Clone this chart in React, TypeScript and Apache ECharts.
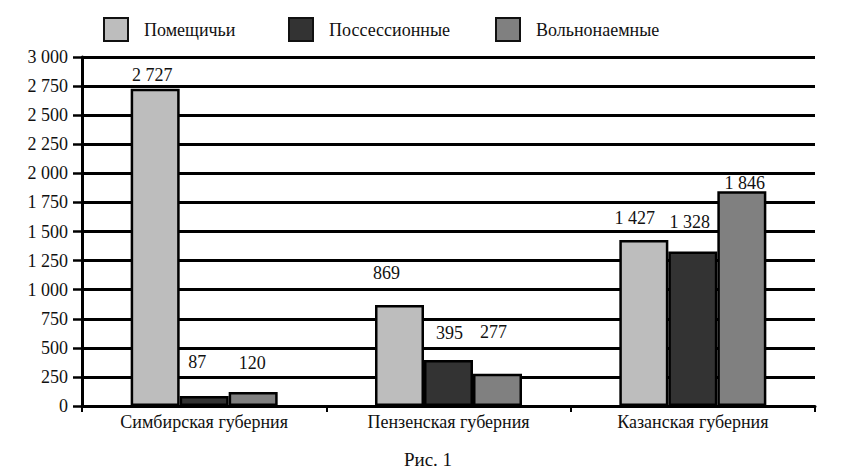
import React, { useEffect, useRef } from "react";
import * as echarts from "echarts";

const categories = ["Симбирская губерния", "Пензенская губерния", "Казанская губерния"];
const seriesNames = ["Помещичьи", "Поссессионные", "Вольнонаемные"];
const pomeshchichi = [2727, 869, 1427];
const possessionnye = [87, 395, 1328];
const volnonaemnye = [120, 277, 1846];
const yTicks = [0, 250, 500, 750, 1000, 1250, 1500, 1750, 2000, 2250, 2500, 2750, 3000];

const colors = ["#bdbdbd", "#333333", "#808080"];
// label offsets [dx, dy] per series per category (styling only)
const labelOffsets = [
  [[-3, -5], [-13, -23], [-9, -13]],
  [[-7, -25], [1, -18], [-3, -21]],
  [[-1, -20], [-4, -33], [3, 1]],
];
const legendLefts = [103, 288, 495];

const fmt = (v: number) => {
  const s = String(Math.round(v));
  return s.replace(/\B(?=(\d{3})+(?!\d))/g, " ");
};

export default function App() {
  const ref = useRef<HTMLDivElement>(null);
  useEffect(() => {
    if (!ref.current) return;
    const chart = echarts.init(ref.current, null, { renderer: "svg" });
    const font = "Liberation Serif";
    const all = [pomeshchichi, possessionnye, volnonaemnye];
    const series = all.map((vals, si) => ({
      name: seriesNames[si],
      type: "bar",
      barWidth: 49,
      barGap: "0%",
      itemStyle: { color: colors[si], borderColor: "#000", borderWidth: 2.5 },
      data: vals.map((v, ci) => ({
        value: v,
        label: { offset: labelOffsets[si][ci] },
      })),
      label: {
        show: true,
        position: "top",
        distance: 0,
        color: "#111",
        fontFamily: font,
        fontSize: 18,
        formatter: (p: any) => fmt(p.value),
      },
    }));
    chart.setOption({
      animation: false,
      backgroundColor: "#fff",
      color: colors,
      legend: seriesNames.map((n, i) => ({
        top: 17,
        left: legendLefts[i],
        padding: 0,
        itemWidth: 24,
        itemHeight: 23,
        icon: "rect",
        selectedMode: false,
        itemStyle: { borderColor: "#111", borderWidth: 2 },
        textStyle: { fontFamily: font, fontSize: 18, color: "#111", padding: [0, 0, 0, 11] },
        data: [n],
      })),
      grid: { left: 82, right: 28, top: 57, bottom: 65, containLabel: false },
      xAxis: {
        type: "category",
        data: categories,
        axisLine: { lineStyle: { color: "#000", width: 3 } },
        axisTick: { show: true, length: 6, lineStyle: { color: "#000", width: 2 } },
        axisLabel: { fontFamily: font, fontSize: 18, color: "#111", margin: 7 },
      },
      yAxis: {
        type: "value",
        min: yTicks[0],
        max: yTicks[yTicks.length - 1],
        interval: 250,
        axisLine: { show: true, lineStyle: { color: "#000", width: 3 } },
        axisTick: { show: true, length: 9, lineStyle: { color: "#000", width: 2.5 } },
        axisLabel: { fontFamily: font, fontSize: 18, color: "#111", margin: 14, formatter: (v: number) => fmt(v) },
        splitLine: { show: true, lineStyle: { color: "#000", width: 3 } },
      },
      graphic: [
        {
          type: "text",
          x: 428,
          y: 459,
          style: {
            text: "Рис. 1",
            fontFamily: font,
            fontSize: 19,
            fill: "#111",
            textAlign: "center",
            textVerticalAlign: "middle",
          },
        },
      ],
      series,
    });
    return () => chart.dispose();
  }, []);
  return (
    <div
      ref={ref}
      style={{ position: "absolute", left: 0, top: 0, width: 843, height: 471 }}
    />
  );
}
